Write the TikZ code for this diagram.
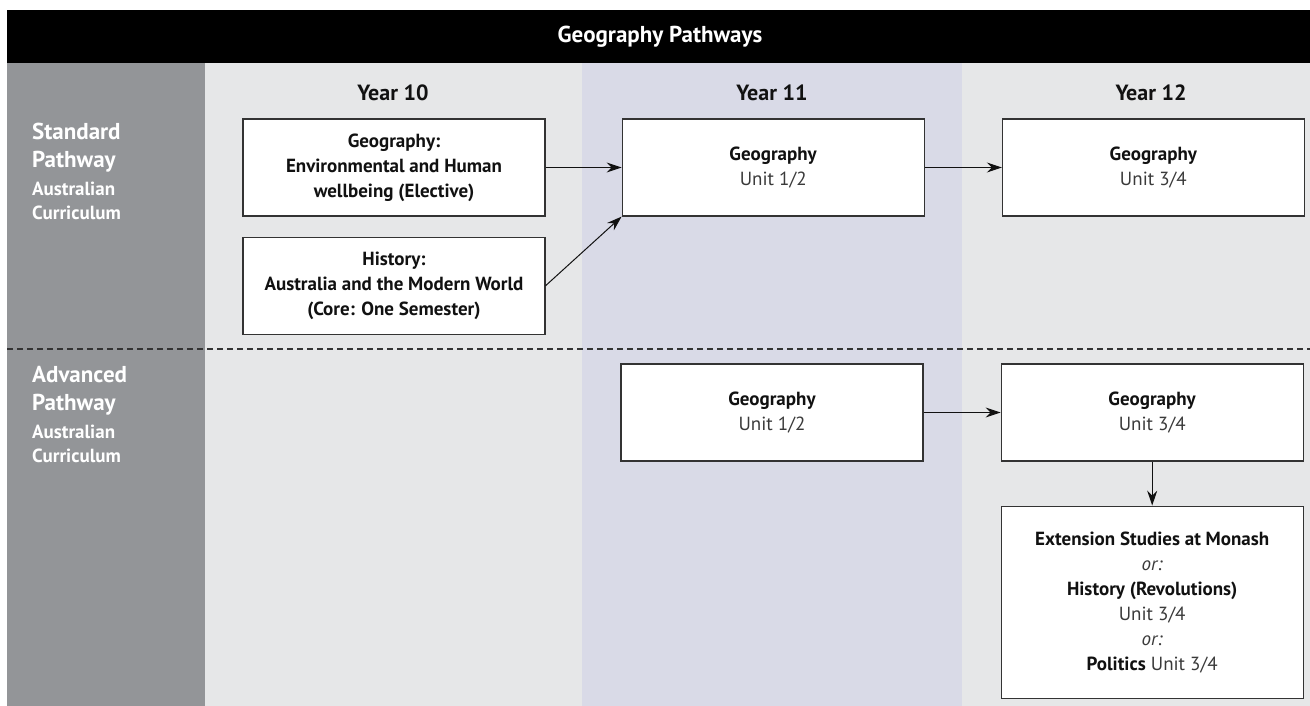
\documentclass[tikz,border=0pt]{standalone}
\usepackage{fontspec}
\setmainfont{PT Sans}
\usetikzlibrary{positioning,arrows.meta}

\definecolor{sidegray}{HTML}{939598}
\definecolor{colgray}{HTML}{E6E7E8}
\definecolor{colblue}{HTML}{D9DAE7}
\definecolor{boxline}{HTML}{333333}
\definecolor{ink}{HTML}{111111}
\definecolor{unitink}{HTML}{3A3A3A}

\newcommand{\unit}[1]{{\color{unitink}#1}}

\begin{document}
\begin{tikzpicture}[x=1pt, y=-1pt, >={Stealth[length=15pt,width=10pt,inset=5pt]},
    box/.style={draw=boxline, line width=1.2pt, fill=white, minimum width=302pt,
      minimum height=97pt, inner sep=0pt, align=center, text=ink,
      font=\fontsize{19}{25}\selectfont},
    year/.style={text=ink, font=\bfseries\fontsize{22}{26}\selectfont},
    pathname/.style={anchor=north west, align=left, inner sep=0pt, text=white,
      font=\bfseries\fontsize{23}{28}\selectfont},
    pathsub/.style={anchor=north west, align=left, inner sep=0pt, text=white,
      font=\bfseries\fontsize{19}{24}\selectfont},
    link/.style={->, line width=1pt, draw=ink}]

  \useasboundingbox (0,0) rectangle (1310,706);

  % columns and header
  \fill[sidegray] (7,63) rectangle (205,706);
  \fill[colgray] (205,63) rectangle (1310,706);
  \fill[colblue] (582,63) rectangle (962,706);
  \fill[black] (7,10) rectangle (1310,63);
  \node [text=white, font=\bfseries\fontsize{23}{26}\selectfont] (title) at (660,37) {Geography Pathways};

  \node [year] (y10) at (393,93) {Year 10};
  \node [year] (y11) at (772,93) {Year 11};
  \node [year] (y12) at (1151,93) {Year 12};

  \draw [boxline, line width=1.2pt, dash pattern=on 6pt off 4pt] (7,349) -- (1310,349);

  % standard pathway
  \node [pathname] (std) at (32,123) {Standard\\Pathway};
  \node [pathsub, below=9pt of std.south west, anchor=north west] (stdsub) {Australian\\Curriculum};

  \node [box] (g10) at (394,167.5) {\textbf{Geography:}\\\textbf{Environmental and Human}\\\textbf{wellbeing (Elective)}};
  \node [box, below=20pt of g10] (h10) {\textbf{History:}\\\textbf{Australia and the Modern World}\\\textbf{(Core: One Semester)}};
  \node [box, right=76pt of g10] (g11) {\textbf{Geography}\\\unit{Unit 1/2}};
  \node [box, right=77pt of g11] (g12) {\textbf{Geography}\\\unit{Unit 3/4}};

  \draw [link] (g10) -- (g11);
  \draw [link] (h10.east) -- (g11.south west);
  \draw [link] (g11) -- (g12);

  % advanced pathway
  \node [pathname] (adv) at (32,366) {Advanced\\Pathway};
  \node [pathsub, below=9pt of adv.south west, anchor=north west] (advsub) {Australian\\Curriculum};

  \node [box] (a11) at (772,412.5) {\textbf{Geography}\\\unit{Unit 1/2}};
  \node [box, right=77pt of a11] (a12) {\textbf{Geography}\\\unit{Unit 3/4}};
  \node [box, minimum height=192pt, below=44pt of a12] (ext) {\textbf{Extension Studies at Monash}\\\unit{\textit{or:}}\\\textbf{History (Revolutions)}\\\unit{Unit 3/4}\\\unit{\textit{or:}}\\\textbf{Politics} \unit{Unit 3/4}};

  \draw [link] (a11) -- (a12);
  \draw [link] (a12) -- (ext);
\end{tikzpicture}
\end{document}
